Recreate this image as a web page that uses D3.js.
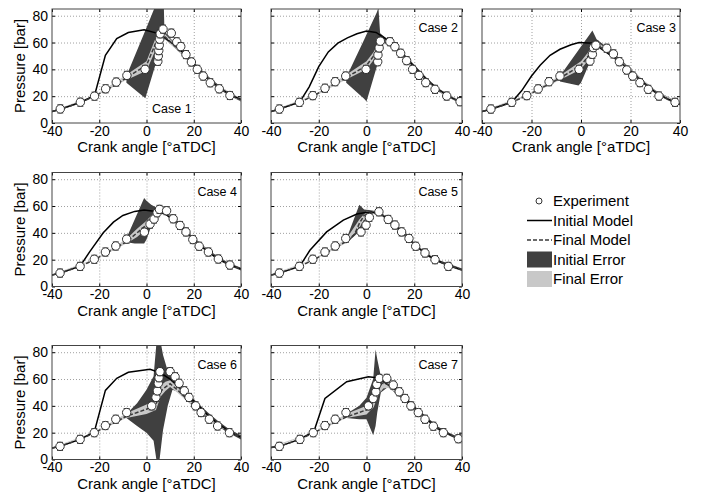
<!DOCTYPE html>
<html>
<head>
<meta charset="utf-8">
<script src="https://cdnjs.cloudflare.com/ajax/libs/d3/7.8.5/d3.min.js"></script>
<style>
body { margin: 0; background: #fff; }
text { font-family: "Liberation Sans", Arial, sans-serif; fill: #000; }
</style>
</head>
<body>
<svg id="chart" width="701" height="495"></svg>
<script>
// ---- data ----
var caseNames = ["Case 1", "Case 2", "Case 3", "Case 4", "Case 5", "Case 6", "Case 7"];
var xTicks = [-40, -20, 0, 20, 40];
var yTicks = [0, 20, 40, 60, 80];
var expErr = 3; // error bar half height [bar]

// experiment points [angle, pressure]
var experiment = [
  [[-36.5,10.5],[-28,15.5],[-22,20],[-17.3,25.5],[-12.8,30.5],[-8.3,35.5],[-0.6,40],[4.8,46],[5,50],[5.2,54],[5.4,58],[5.6,62.5],[5.8,66.5],[7,70],[10.5,67],[12.8,60.5],[14.5,57],[16.7,51],[19,45.5],[21.5,40],[24,35],[27,30],[30.8,25.5],[35.3,20.5]],
  [[-36.5,10.4],[-28.1,15.4],[-22.5,20.4],[-17.4,25.9],[-13.1,30.8],[-8.7,35],[-0.2,40],[4.7,45.7],[4.8,50.7],[5.3,56],[5.8,61],[9.8,60.6],[11.9,56.9],[14.3,52],[16.8,46.5],[19.3,40],[22,35.5],[24.8,30.1],[28.7,25.1],[33.6,20.1],[39.2,15.9]],
  [[-36.4,10.4],[-28,15.4],[-21.9,20.4],[-17.3,25.4],[-12.9,30.8],[-8.5,35],[-0.8,40],[3.6,46.2],[4.6,51.2],[5,56.2],[6,58],[10.4,55.7],[13.1,51.5],[15.5,45.7],[18.5,39.5],[20.9,35],[23.8,30.1],[27.2,25.1],[31.5,20.1],[38,15.4]],
  [[-36.6,10],[-28.1,15],[-22.1,20.3],[-17.4,25.7],[-13,30.2],[-8.4,35.3],[-0.9,40.5],[1.5,46.5],[3.2,50.3],[4.5,55],[5.5,57.5],[8.5,56.5],[11.3,50.5],[14.2,45.5],[16.7,40.7],[19.6,35],[22.3,30],[26.2,25.7],[30.4,20.5],[35.3,16]],
  [[-36.5,10],[-28.1,15],[-22.5,20.3],[-17.4,25.7],[-13.1,30.2],[-8.7,35.8],[-2.3,40.7],[-0.2,45.8],[1.2,51.5],[5.2,55.7],[9.1,50],[11.9,45.8],[14.7,40.7],[17.8,35.8],[20.6,30],[24.5,25],[28.7,20],[34.3,15]],
  [[-36.6,9.8],[-28.1,15],[-22.1,20],[-17.4,25.3],[-13,30],[-8.4,35],[2.2,40],[4,46.3],[4.6,51.2],[5,56.8],[5.3,61],[5.7,65.5],[10,65.5],[12.1,61.7],[13.8,56.8],[16,51.2],[18,46.3],[20.8,40],[23.1,35],[26.6,30],[30.1,25],[35.1,20]],
  [[-36.5,9.8],[-27.9,15],[-22.3,20],[-17.4,25.3],[-13.1,30],[-8.6,35],[0.8,40],[2.8,45.5],[3.9,50.5],[4.3,56],[5.4,60.5],[8.5,60.5],[11.2,55.5],[13.7,50.5],[16.1,45.5],[18.6,40],[21.7,35],[24.5,30],[28,24.8],[32.2,20],[38.5,15.5]]
];

// initial model [angle, pressure]
var initialModel = [
  [[-40,8.5],[-36.5,10.3],[-28,15.3],[-22,20.5],[-17.4,50.5],[-12.6,63],[-7.7,67.5],[-1,69.5],[5.5,66.5],[8,63],[12,58],[16,51.5],[20,44],[25,35],[30,27.5],[35,21.5],[40,17.5]],
  [[-40,8.5],[-36.5,10.4],[-28,15.5],[-24,27],[-20,42],[-16,53],[-12,59.5],[-8,63.5],[-4,66.5],[0,68.5],[4,67.5],[8,63],[12,57],[16,49.5],[20,42],[25,33],[30,25],[35,19.5],[40,15]],
  [[-40,8.5],[-36.4,10.3],[-28,15.4],[-24,24],[-20,35],[-16.5,43],[-12.5,50.5],[-8.5,55],[-4,58.3],[-0.8,60],[5,59.5],[10,53],[15,46.5],[20,39],[25,30.5],[30,23],[35,18],[40,14]],
  [[-40,8.5],[-36.6,10],[-28.1,15.2],[-24,26],[-18.3,40],[-14,48],[-10,53],[-5,56],[-1,57],[4,56],[8,54],[12,49],[16,42],[20,35],[25,27.5],[30,21],[35,16.5],[40,13]],
  [[-40,8.5],[-36.5,10],[-28,15],[-23.7,27],[-16.7,40.7],[-9.7,49.5],[-4,54],[-1,55],[2,55.5],[6,54],[10,49],[14,42],[18,35],[22,28.5],[26,23],[30,19],[35,15.5],[40,12.5]],
  [[-40,8.5],[-36.6,9.8],[-28.1,15],[-22.1,20.5],[-17.4,51.5],[-12.6,60.5],[-7.7,65],[1.5,67.3],[6,64.5],[10,60],[14,54],[18,47],[22,40],[26,33],[30,27],[35,21],[40,16.5]],
  [[-40,9],[-36.5,9.8],[-28,15],[-22,21],[-17.4,45.5],[-8.3,58],[0.8,61.7],[4.3,61],[8,57],[12,52],[16,46],[20,38.5],[25,30.5],[30,23],[35,18.5],[40,14.5]]
];

// final model [angle, pressure]
var finalModel = [
  [[-40,8.5],[-36.5,10.3],[-28,15.3],[-22,20],[-17,24.5],[-12,29.5],[-8.4,34],[0,43],[4,60],[6,66],[8,64],[12,57.5],[16,50.5],[20,43.5],[25,35],[30,27.5],[35,21.5],[40,17]],
  [[-40,8.5],[-36.5,10.4],[-28,15.4],[-22,20.4],[-17,25.5],[-12,30.5],[-8,34.5],[-4,38.5],[0,43],[3,50],[5,57],[6.5,61],[8,60],[12,56],[16,49],[20,41.5],[25,32.5],[30,24.5],[35,19.5],[40,15]],
  [[-40,8.5],[-36.4,10.3],[-28,15.4],[-22,20.3],[-17,25],[-12,30],[-8.5,33.5],[-4,38.5],[0,43],[3,50],[5,57],[7,57.5],[10,54],[15,47],[20,39],[25,30.5],[30,23],[35,18],[40,14]],
  [[-40,8.5],[-36.6,10],[-28,15],[-22,20],[-17,25],[-12,30],[-8.4,33.5],[-4,40],[0,46],[3,52],[5,55.5],[8,55],[12,49],[16,42],[20,35],[25,27.5],[30,21],[35,16.5],[40,13]],
  [[-40,8.5],[-36.5,10],[-28,15],[-22,20],[-17,25],[-12,30],[-8,34],[-5,39],[-3,47],[-1,53],[2,55],[6,54],[10,49],[14,42],[18,35],[22,28.5],[26,23],[30,19],[35,15.5],[40,12.5]],
  [[-40,8.5],[-36.6,9.8],[-28,15],[-22,20],[-17,24.5],[-12,29],[-8,32.5],[-4,35],[0,37.5],[4,41],[6,51],[8,54],[10,56.5],[13,52],[16,47],[20,40],[25,32],[30,25.5],[35,20.5],[40,16.5]],
  [[-40,9],[-36.5,9.8],[-28,15],[-22,20],[-17,24.5],[-12,29],[-8,32],[-4,34.5],[0,37],[3,43],[5,52],[6.5,57],[9,56],[12,51],[16,45],[20,38],[25,30],[30,23],[35,18.5],[40,14.5]]
];

// initial error band [angle, low, high]
var initialError = [
  [[-8.5,30,35],[-0.5,18.5,69],[4.6,48,91],[6.3,66,97],[7.2,64,97],[7.6,63,68],[12,56,59.5],[16,49.5,53],[20,42,45.5],[25,33.5,36.5],[30,26,29],[35,20.5,22.5],[40,16,18.5]],
  [[-8.5,30,34],[-1,18,62],[0,16,66],[4.3,42,82.3],[5,55,86],[5.7,62,67],[8,59.5,63.5],[12,55,58.5],[16,48,51],[20,40.5,43.5],[25,31.5,34],[30,23.5,26],[35,18.5,20.5],[40,14,16]],
  [[-8.5,31,35],[-1,28,54.5],[0,30,57],[3.5,45,66],[4.6,55,69],[6.3,57.5,62.5],[8,56,60],[12,51,54],[16,44.5,47.5],[20,38,40.5],[25,29.5,32],[30,22,24.5],[35,17,19.5],[40,13,15]],
  [[-8.5,33,36],[-5,32,50],[-1,32,66],[0,35,64],[2,45,61],[4,54,59],[6,55,57.5],[8,53.5,56],[12,48,50.5],[16,41,43.5],[20,34,36.5],[25,26.5,29],[30,20,22.5],[35,15.5,17.5],[40,12,14]],
  [[-8.5,32,35],[-3,41,61],[-1,48,57.5],[1,53,57],[3,54,56.5],[6,53,55],[10,48,50],[14,41,43],[18,34,36],[22,27.5,29.5],[26,22,24],[30,18,20],[35,14.5,16.5],[40,11.5,13.5]],
  [[-8.5,31,34],[-4,25,42],[0,20,52],[3,14,62],[4.6,-5,95],[5.2,-5,95],[7,22,78],[9,40,66],[11,52,60],[14,50,55],[18,44,48.5],[22,37.5,41.5],[26,31,35],[30,25,29],[35,19.5,22.5],[40,15,18]],
  [[-8.5,31,34],[-3,30,40],[0,30,46],[2.8,18,60],[3.8,25,82],[4.5,35,75],[6,50,62],[9,54,59.5],[12,49.5,53.5],[16,43.5,47.5],[20,36.5,40],[25,29,32],[30,22,24.5],[35,17.5,19.5],[40,13.5,15.5]]
];

// final error band [angle, low, high]
var finalError = [
  [[-40,8,9],[-22,19.5,20.5],[-8.5,32,36],[0,39,46],[4,55,64],[6,62,69],[8,62,66],[12,56,59],[20,42.5,44.5],[30,26.5,28.5],[40,16,18]],
  [[-40,8,9],[-22,19.5,21],[-8.5,32.5,36],[0,40,46],[3,47,53],[5,54,60],[6.5,59,63],[8,58.5,61.5],[12,55,57.5],[20,40.5,42.5],[30,23.5,25.5],[40,14,16]],
  [[-40,8,9],[-22,19.5,21],[-8.5,32,35.5],[0,40,46],[3,47,53],[5,55,60],[7,55.5,60],[10,52.5,55.5],[20,38,40.5],[30,22,24],[40,13,15]],
  [[-40,8,9],[-22,19.5,20.5],[-8.5,32,35.5],[-4,37,43],[0,43,49],[3,50,55],[5,54,57.5],[8,53.5,56],[20,34.5,36],[30,20.5,21.5],[40,12.5,13.5]],
  [[-40,8,9],[-22,19.5,20.5],[-8.5,32.5,35.5],[-3,44,50],[0,52,56],[3,54,56],[8,51,53],[20,31.5,32.5],[30,18.5,19.5],[40,12,13]],
  [[-40,8,9],[-22,19.5,20.5],[-8.5,31,34.5],[0,34,41],[4,37,45],[6,47,55],[8,51,58],[10,54,59],[13,50,54],[20,39,41],[30,25,26.5],[40,16,17]],
  [[-40,8.5,9.5],[-22,19.5,20.5],[-8.5,31,34],[0,33.5,40],[3,39,47],[5,48,56],[7,53,59],[9,53.5,58],[12,50,53],[20,37,39],[30,22.5,23.5],[40,14,15]]
];

var legendLabels = ["Experiment", "Initial Model", "Final Model", "Initial Error", "Final Error"];

// ---- layout ----
var colX = [52, 271, 482], colW = [189, 191, 198];
var rowY = [9, 172.5, 345.5], plotH = 114;
var panelRow = [0, 0, 0, 1, 1, 2, 2], panelCol = [0, 1, 2, 0, 1, 0, 1];

var darkFill = "#404040", lightFill = "#c8c8c8";

var svg = d3.select("#chart");

caseNames.forEach(function(name, i) {
  var left = colX[panelCol[i]], top = rowY[panelRow[i]], w = colW[panelCol[i]];
  var x = d3.scaleLinear().domain([-40, 40]).range([0, w]);
  var y = d3.scaleLinear().domain([0, 85]).range([plotH, 0]);

  var g = svg.append("g").attr("transform", "translate(" + left + "," + top + ")");

  // grid
  g.append("g").attr("class", "grid")
    .attr("transform", "translate(0," + plotH + ")")
    .call(d3.axisBottom(x).tickValues([-20, 0, 20]).tickSize(-plotH).tickFormat(""));
  g.append("g").attr("class", "grid")
    .call(d3.axisLeft(y).tickValues([20, 40, 60, 80]).tickSize(-w).tickFormat(""));
  g.selectAll(".grid .domain").remove();
  g.selectAll(".grid line").attr("stroke", "#a0a0a0").attr("stroke-dasharray", "1,2");

  // data
  var clipId = "clip" + i;
  g.append("clipPath").attr("id", clipId).append("rect").attr("width", w).attr("height", plotH);
  var d = g.append("g").attr("clip-path", "url(#" + clipId + ")");

  var band = d3.area().x(function(p) { return x(p[0]); })
    .y0(function(p) { return y(p[1]); }).y1(function(p) { return y(p[2]); });
  var line = d3.line().x(function(p) { return x(p[0]); }).y(function(p) { return y(p[1]); });

  d.append("path").attr("d", band(initialError[i])).attr("fill", darkFill);
  d.append("path").attr("d", band(finalError[i])).attr("fill", lightFill);
  d.append("path").attr("d", line(initialModel[i])).attr("fill", "none")
    .attr("stroke", "#000").attr("stroke-width", 1.5);
  d.append("path").attr("d", line(finalModel[i])).attr("fill", "none")
    .attr("stroke", "#3a3a3a").attr("stroke-width", 1.5).attr("stroke-dasharray", "4,2");

  var pts = d.selectAll(".pt").data(experiment[i]).enter().append("g").attr("class", "pt");
  pts.append("line")
    .attr("x1", function(p) { return x(p[0]); }).attr("x2", function(p) { return x(p[0]); })
    .attr("y1", function(p) { return y(p[1] - expErr); }).attr("y2", function(p) { return y(p[1] + expErr); })
    .attr("stroke", "#333");
  [-1, 1].forEach(function(s) {
    pts.append("line")
      .attr("x1", function(p) { return x(p[0]) - 3; }).attr("x2", function(p) { return x(p[0]) + 3; })
      .attr("y1", function(p) { return y(p[1] + s * expErr); }).attr("y2", function(p) { return y(p[1] + s * expErr); })
      .attr("stroke", "#333");
  });
  pts.append("circle")
    .attr("cx", function(p) { return x(p[0]); }).attr("cy", function(p) { return y(p[1]); })
    .attr("r", 4.2).attr("fill", "#fff").attr("stroke", "#333");

  // axes
  g.append("g").attr("transform", "translate(0," + plotH + ")")
    .call(d3.axisBottom(x).tickValues(xTicks).tickSizeInner(-3).tickSizeOuter(0).tickPadding(3)
      .tickFormat(function(v) { return v; }));
  g.append("g").call(d3.axisTop(x).tickValues(xTicks).tickSizeInner(-3).tickSizeOuter(0).tickFormat(""));
  g.append("g")
    .call(d3.axisLeft(y).tickValues(yTicks).tickSizeInner(-3).tickSizeOuter(0).tickPadding(4)
      .tickFormat(panelCol[i] === 0 ? function(v) { return v; } : ""));
  g.append("g").attr("transform", "translate(" + w + ",0)")
    .call(d3.axisRight(y).tickValues(yTicks).tickSizeInner(-3).tickSizeOuter(0).tickFormat(""));
  g.selectAll(".domain").remove();
  g.selectAll(".tick text").attr("font-size", 14).attr("font-family", "Liberation Sans, Arial, sans-serif");

  g.append("rect").attr("width", w).attr("height", plotH)
    .attr("fill", "none").attr("stroke", "#444").attr("stroke-width", 1);

  // labels
  g.append("text").attr("x", w / 2).attr("y", plotH + 29).attr("text-anchor", "middle")
    .attr("font-size", 15).text("Crank angle [\u00b0aTDC]");
  if (panelCol[i] === 0) {
    g.append("text").attr("transform", "translate(" + (25 - left) + "," + (plotH / 2) + ") rotate(-90)")
      .attr("text-anchor", "middle").attr("font-size", 15).text("Pressure [bar]");
  }
  if (i === 0) {
    g.append("text").attr("x", 100).attr("y", 104).attr("font-size", 12.5).text(name);
  } else {
    g.append("text").attr("x", w - 4).attr("y", 23).attr("text-anchor", "end")
      .attr("font-size", 12.5).text(name);
  }
});

// legend
var lg = svg.append("g").attr("transform", "translate(527,201)");
var rows = lg.selectAll(".lrow").data(legendLabels).enter().append("g")
  .attr("transform", function(dd, k) { return "translate(0," + (k * 19.5) + ")"; });
rows.append("text").attr("x", 26).attr("y", 5).attr("font-size", 15).text(function(dd) { return dd; });
d3.select(rows.nodes()[0]).append("circle").attr("cx", 12).attr("cy", 0).attr("r", 3)
  .attr("fill", "#fff").attr("stroke", "#333");
d3.select(rows.nodes()[1]).append("line").attr("x1", 0).attr("x2", 25).attr("stroke", "#000").attr("stroke-width", 1.5);
d3.select(rows.nodes()[2]).append("line").attr("x1", 0).attr("x2", 25).attr("stroke", "#3a3a3a")
  .attr("stroke-width", 1.5).attr("stroke-dasharray", "4,2");
d3.select(rows.nodes()[3]).append("rect").attr("x", 0).attr("y", -8).attr("width", 25).attr("height", 16).attr("fill", darkFill);
d3.select(rows.nodes()[4]).append("rect").attr("x", 0).attr("y", -8).attr("width", 25).attr("height", 16).attr("fill", lightFill);
</script>
</body>
</html>
